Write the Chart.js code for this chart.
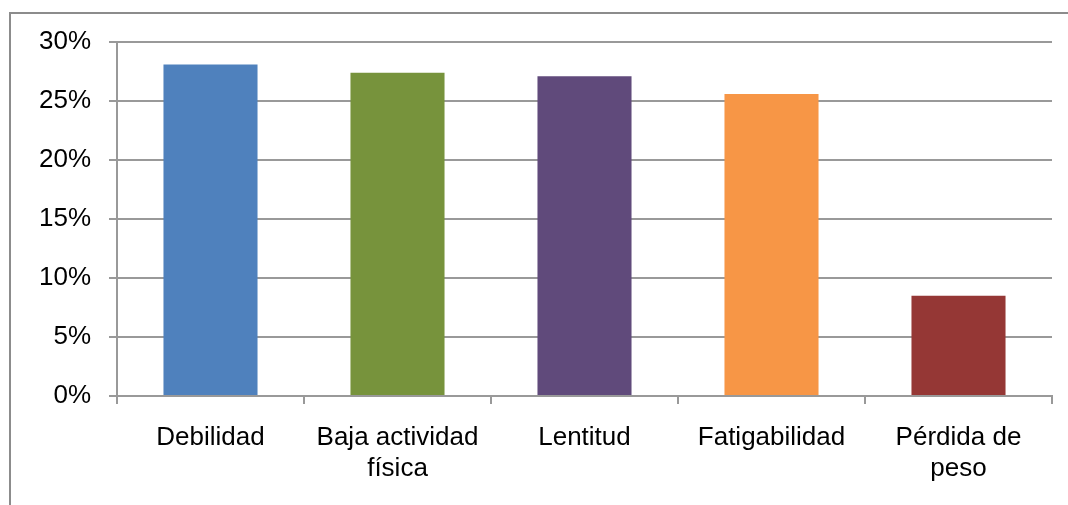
<!DOCTYPE html>
<html>
<head>
<meta charset="utf-8">
<script src="https://cdn.jsdelivr.net/npm/chart.js@4.4.1/dist/chart.umd.min.js"></script>
<style>
  html, body { margin: 0; padding: 0; background: #fff; }
  #wrap { position: relative; width: 1068px; height: 505px; }
  #frame { position: absolute; left: 9px; top: 12px; width: 1100px; height: 600px;
           border-left: 2px solid #8c8c8c; border-top: 2px solid #8c8c8c; box-sizing: border-box; }
  canvas { position: absolute; left: 0; top: 0; }
</style>
</head>
<body>
<div id="wrap">
  <div id="frame"></div>
  <canvas id="c" width="1068" height="505"></canvas>
</div>
<script>
const categories = ["Debilidad", ["Baja actividad", "física"], "Lentitud", "Fatigabilidad", ["Pérdida de", "peso"]];
const values = [0.281, 0.274, 0.271, 0.256, 0.085];
const barColors = ["#4F81BD", "#77933C", "#604A7B", "#F79646", "#953735"];
const yTicks = [0, 0.05, 0.10, 0.15, 0.20, 0.25, 0.30];

const gridColor = "#999999";
const font = { family: "'Liberation Sans', Arial, sans-serif", size: 26 };

new Chart(document.getElementById("c"), {
  type: "bar",
  data: {
    labels: categories,
    datasets: [{
      data: values,
      backgroundColor: barColors,
      borderWidth: 0,
      barPercentage: 0.503,
      categoryPercentage: 1.0
    }]
  },
  options: {
    responsive: false,
    animation: false,
    devicePixelRatio: 1,
    layout: { padding: { left: 0, right: 16, top: 42, bottom: 0 } },
    plugins: { legend: { display: false }, tooltip: { enabled: false } },
    scales: {
      x: {
        offset: true,
        grid: { offset: true, drawOnChartArea: false, drawTicks: true, tickLength: 8, color: gridColor, lineWidth: 2 },
        border: { display: true, color: gridColor, width: 2 },
        ticks: { color: "#000", font: font, padding: 18, maxRotation: 0, autoSkip: false },
        afterFit: s => { s.height = 109; }
      },
      y: {
        min: yTicks[0],
        max: yTicks[yTicks.length - 1],
        afterBuildTicks: s => { s.ticks = yTicks.map(v => ({ value: v })); },
        grid: { color: gridColor, lineWidth: 2, drawTicks: true, tickLength: 8 },
        border: { display: true, color: gridColor, width: 2 },
        ticks: {
          color: "#000", font: font, padding: 18,
          callback: v => Math.round(v * 100) + "%"
        },
        afterFit: s => { s.width = 117; }
      }
    }
  }
});
</script>
</body>
</html>
